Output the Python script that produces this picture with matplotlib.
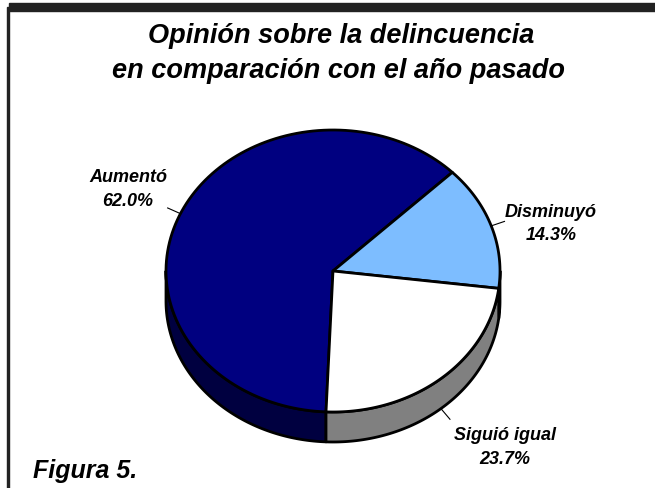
import numpy as np
import matplotlib
matplotlib.use("Agg")
from matplotlib import pyplot as plt
from matplotlib.patches import Polygon, Rectangle

plt.rcParams['font.family'] = ['Liberation Sans', 'DejaVu Sans']

categorias = ['Aumentó', 'Disminuyó', 'Siguió igual']
porcentajes = [62.0, 14.3, 23.7]
colores_tapa = ['#000080', '#7DBDFF', '#FFFFFF']
colores_lado = ['#000040', '#5A8CC0', '#808080']
titulo = ['Opinión sobre la delincuencia', 'en comparación con el año pasado']
pie_figura = 'Figura 5.'

# geometria del pastel (pixeles)
cx, cy, a, b, prof = 333, 272, 167, 141, 30
inicio = 267.6

# posiciones de las etiquetas: x, baseline linea 1, baseline linea 2
pos_etiquetas = [(128, 182, 206), (551, 217, 240), (505, 440, 464)]


def punto(t, dz=0):
    r = np.radians(t)
    return cx + a * np.cos(r), cy - b * np.sin(r) + dz


def arco(t1, t2, dz=0, n=120):
    ts = np.linspace(t1, t2, n)
    return np.array([punto(t, dz) for t in ts])


fig = plt.figure(figsize=(6.55, 4.89), dpi=100)
ax = fig.add_axes([0, 0, 1, 1])
ax.set_xlim(0, 655)
ax.set_ylim(489, 0)
ax.axis('off')

# marco
ax.add_patch(Rectangle((9, 4), 646, 8, color='#222222', zorder=5))
ax.add_patch(Rectangle((6.5, 8), 2.5, 481, color='#222222', zorder=5))

total = sum(porcentajes)
angulos = []
t = inicio
for p in porcentajes:
    t2 = t - 360 * p / total
    angulos.append((t2, t))
    t = t2

lw = 2.0
# lados (parte frontal, 180..360)
for (lo, hi), col in zip(angulos, colores_lado):
    for shift in (-360, 0, 360):
        l, h = max(lo + shift, 180), min(hi + shift, 360)
        if h > l:
            sup = arco(l, h)
            inf = arco(h, l, prof)
            ax.add_patch(Polygon(np.vstack([sup, inf]), closed=True, facecolor=col,
                                 edgecolor='black', lw=lw, joinstyle='round', zorder=1))

# tapas
for (lo, hi), col in zip(angulos, colores_tapa):
    pts = np.vstack([[cx, cy], arco(lo, hi)])
    ax.add_patch(Polygon(pts, closed=True, facecolor=col, edgecolor='black',
                         lw=lw, joinstyle='round', zorder=2))

# etiquetas y lineas guia
fuente = dict(fontweight='bold', fontstyle='italic', color='black')
for (lo, hi), nombre, p, (x, y1, y2) in zip(angulos, categorias, porcentajes, pos_etiquetas):
    m = (lo + hi) / 2
    r = np.radians(m)
    dz = prof if np.sin(r) < 0 else 0
    x0, y0 = punto(m, dz)
    ux, uy = np.cos(r), -np.sin(r)
    ax.plot([x0, x0 + 14 * ux], [y0, y0 + 14 * uy], color='black', lw=0.8, zorder=3)
    ax.text(x, y1, nombre, ha='center', va='baseline', fontsize=13, **fuente)
    ax.text(x, y2, f'{p:.1f}%', ha='center', va='baseline', fontsize=13, **fuente)

ax.text(341, 43, titulo[0], ha='center', va='baseline', fontsize=19.5, **fuente)
ax.text(339, 78, titulo[1], ha='center', va='baseline', fontsize=19.5, **fuente)
ax.text(33, 478, pie_figura, ha='left', va='baseline', fontsize=18, **fuente)

fig.savefig('out.png', dpi=100)
